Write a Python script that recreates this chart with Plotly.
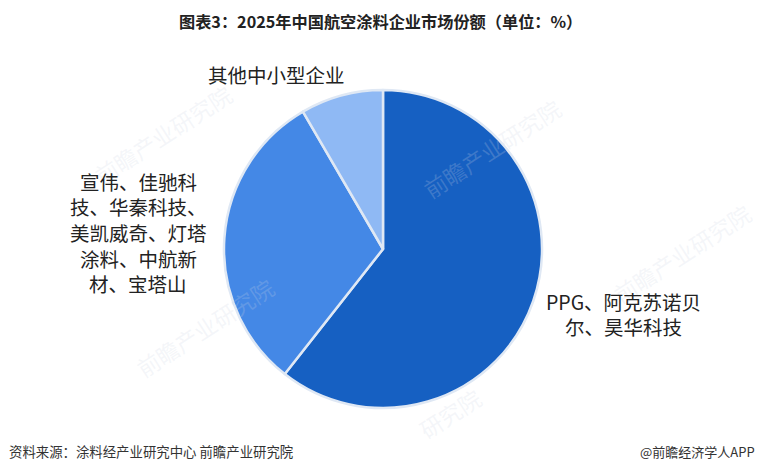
"""Market share pie for the aviation coatings chart."""

import plotly.graph_objects as go

# values
names = ["PPG、阿克苏诺贝尔、昊华科技", "宣伟、佳驰科技、华秦科技、美凯威奇、灯塔涂料、中航新材、宝塔山", "其他中小型企业"]
shares = [60.6, 31.0, 8.4]
colors = ["#1660c2", "#4488e6", "#8fb9f4"]
label_lines = [
    ["PPG、阿克苏诺贝", "尔、昊华科技"],
    ["宣伟、佳驰科", "技、华秦科技、", "美凯威奇、灯塔", "涂料、中航新", "材、宝塔山"],
    ["其他中小型企业"],
]
title = "图表3：2025年中国航空涂料企业市场份额（单位：%）"
source = "资料来源：涂料经产业研究中心 前瞻产业研究院"
credit = "@前瞻经济学人APP"
watermark = "前瞻产业研究院"

W, H = 760, 472
FONT = "Noto Sans CJK SC"
LINE_STEP = 25.7


def px(x, y):
    return x / W, 1 - y / H


fig = go.Figure()
fig.add_trace(go.Pie(
    labels=names,
    values=shares,
    sort=False,
    direction="clockwise",
    rotation=0,
    textinfo="none",
    hoverinfo="label+percent",
    marker=dict(colors=colors, line=dict(color="#dfe8f4", width=2.5)),
    domain=dict(x=[(383 - 159) / W, (383 + 159) / W], y=[(H - 408) / H, (H - 90) / H]),
    showlegend=False,
))


def add_text(text, x, y, size, color="#222222", anchor="center", angle=0):
    ax, ay = px(x, y)
    fig.add_annotation(text=text, x=ax, y=ay, xref="paper", yref="paper", showarrow=False,
                       xanchor=anchor, yanchor="middle", align="center", textangle=angle,
                       font=dict(family=FONT, size=size, color=color))


def add_block(lines, x, first_y, size=19.5):
    for i, line in enumerate(lines):
        add_text(line, x, first_y + i * LINE_STEP, size)


# faint background watermarks
wm_color = "rgba(205,213,228,0.22)"
add_text(watermark, 163, 134, 22.5, color=wm_color, angle=-33)
add_text(watermark, 205, 327, 22.5, color=wm_color, angle=-33)
add_text(watermark, 492, 148, 22.5, color=wm_color, angle=-33)
add_text(watermark, 682, 253, 22.5, color=wm_color, angle=-33)
add_text(watermark[-3:], 450, 413, 22.5, color=wm_color, angle=-33)

add_text(f"<b>{title}</b>", 380, 20.5, 16.2)
add_block(label_lines[2], 276, 74)
add_block(label_lines[1], 138, 181)
add_block(label_lines[0], 623, 301)
add_text(source, 7, 451, 13.4, color="#333333", anchor="left")
add_text(credit, 757, 451, 13, color="#333333", anchor="right")

fig.update_layout(
    width=W, height=H,
    margin=dict(l=0, r=0, t=0, b=0),
    paper_bgcolor="white",
    plot_bgcolor="white",
    font=dict(family=FONT),
)

fig.write_html("out.html", config=dict(displayModeBar=False),
               post_script="document.body.style.margin = '0';")
